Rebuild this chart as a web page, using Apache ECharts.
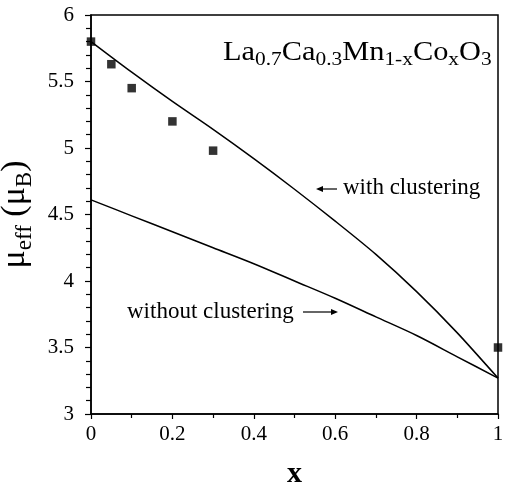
<!DOCTYPE html>
<html>
<head>
<meta charset="utf-8">
<script src="https://cdn.jsdelivr.net/npm/echarts@6/dist/echarts.min.js"></script>
<style>html,body{margin:0;padding:0;background:#fff;}#c{width:510px;height:487px;}</style>
</head>
<body>
<div id="c"></div>
<script>
// Measured data (x = Co fraction, mu_eff in mu_B)
var measX = [0, 0.05, 0.1, 0.2, 0.3, 1.0];
var measY = [5.8, 5.63, 5.45, 5.2, 4.98, 3.5];
// Calculated curves
var curveX = [0, 0.1, 0.2, 0.3, 0.4, 0.5, 0.6, 0.7, 0.8, 0.9, 1.0];
var withClustering = [5.8, 5.57, 5.35, 5.14, 4.92, 4.69, 4.45, 4.2, 3.92, 3.61, 3.27];
var withoutClustering = [4.61, 4.49, 4.37, 4.25, 4.13, 4.0, 3.87, 3.73, 3.59, 3.43, 3.27];
var xTicks = [0, 0.2, 0.4, 0.6, 0.8, 1];
var yTicks = [3, 3.5, 4, 4.5, 5, 5.5, 6];

function pairs(xs, ys) { return xs.map(function (x, i) { return [x, ys[i]]; }); }

var serif = '"Liberation Serif", "Times New Roman", serif';
var chart = echarts.init(document.getElementById('c'), null, {renderer: 'canvas'});
chart.setOption({
  animation: false,
  backgroundColor: '#fff',
  grid: {left: 91, right: 12, top: 15, bottom: 73, show: true, borderColor: '#000', borderWidth: 1.5,
    containLabel: false, outerBoundsMode: 'none'},
  xAxis: {
    type: 'value', min: 0, max: 1, interval: 0.2,
    name: 'x', nameLocation: 'middle', nameGap: 45,
    nameTextStyle: {fontFamily: serif, fontSize: 30, fontWeight: 'bold', color: '#000'},
    axisLine: {lineStyle: {color: '#000', width: 1.5}},
    axisTick: {show: true, inside: false, length: 5, lineStyle: {color: '#000', width: 1.2}},
    minorTick: {show: true, splitNumber: 2, length: 4, lineStyle: {color: '#000', width: 1.2}},
    splitLine: {show: false},
    axisLabel: {fontFamily: serif, fontSize: 21, color: '#000', margin: 10,
      formatter: function (v) { var r = Math.round(v*10)/10; return xTicks.indexOf(r) >= 0 ? String(r) : ''; }}
  },
  yAxis: {
    type: 'value', min: 3, max: 6, interval: 0.5,
    name: '{m|μ}{s|eff}{m| (μ}{s|B}{m|)}', nameLocation: 'middle', nameGap: 36, nameRotate: 90,
    nameTextStyle: {fontFamily: serif, color: '#000',
      rich: {
        m: {fontFamily: serif, fontSize: 34, color: '#000', verticalAlign: 'top', lineHeight: 38},
        s: {fontFamily: serif, fontSize: 23, color: '#000', verticalAlign: 'top', lineHeight: 26, padding: [16, 0, 0, 0]}
      }},
    axisLine: {lineStyle: {color: '#000', width: 1.5}},
    axisTick: {show: true, inside: false, length: 6, lineStyle: {color: '#000', width: 1.2}},
    minorTick: {show: true, splitNumber: 5, length: 5, lineStyle: {color: '#000', width: 1.2}},
    splitLine: {show: false},
    axisLabel: {fontFamily: serif, fontSize: 21, color: '#000', margin: 17,
      formatter: function (v) { return String(v); }}
  },
  series: [
    {type: 'line', data: pairs(curveX, withClustering), smooth: 0.3, showSymbol: false,
      lineStyle: {color: '#000', width: 1.5}},
    {type: 'line', data: pairs(curveX, withoutClustering), smooth: 0.3, showSymbol: false,
      lineStyle: {color: '#000', width: 1.5}},
    {type: 'scatter', data: pairs(measX, measY), symbol: 'rect', symbolSize: 8.5,
      itemStyle: {color: '#000'}, clip: false, z: 5}
  ],
  graphic: [
    {type: 'text', left: 223, top: 39, z: 10, scaleX: 1.125,
      style: {
        text: '{m|La}{s|0.7}{m|Ca}{s|0.3}{m|Mn}{s|1-x}{m|Co}{s|x}{m|O}{s|3}',
        rich: {
          m: {fontFamily: serif, fontSize: 27, fill: '#000', lineHeight: 30, verticalAlign: 'top'},
          s: {fontFamily: serif, fontSize: 19, fill: '#000', lineHeight: 22, verticalAlign: 'top', padding: [12, 0, 0, 0]}
        }
      }},
    {type: 'text', left: 343, top: 176, z: 10,
      style: {text: 'with clustering', fontFamily: serif, fontSize: 23, fill: '#000'}},
    {type: 'text', left: 127, top: 300, z: 10,
      style: {text: 'without clustering', fontFamily: serif, fontSize: 23, fill: '#000'}},
    // arrow pointing left (with clustering)
    {type: 'line', z: 10, shape: {x1: 321, y1: 189, x2: 337, y2: 189}, style: {stroke: '#000', lineWidth: 1.2}},
    {type: 'polygon', z: 10, shape: {points: [[316, 189], [323, 186], [323, 192]]}, style: {fill: '#000'}},
    // arrow pointing right (without clustering)
    {type: 'line', z: 10, shape: {x1: 303, y1: 312, x2: 332, y2: 312}, style: {stroke: '#000', lineWidth: 1.2}},
    {type: 'polygon', z: 10, shape: {points: [[338, 312], [331, 309], [331, 315]]}, style: {fill: '#000'}}
  ]
});
</script>
</body>
</html>
